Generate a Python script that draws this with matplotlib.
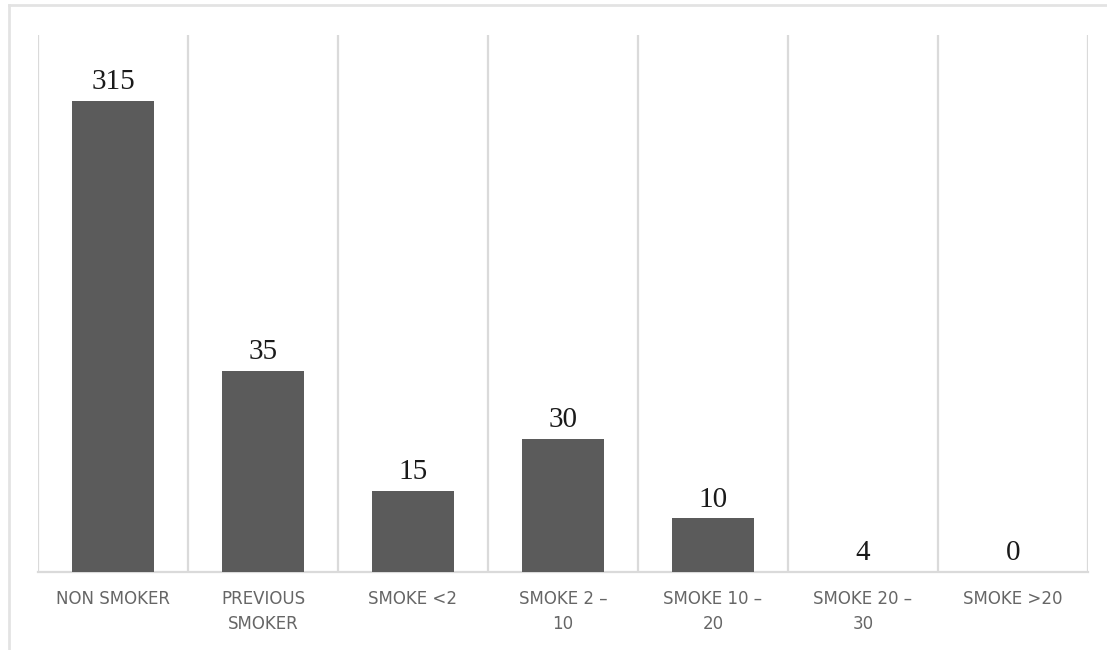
import matplotlib.pyplot as plt
from matplotlib.lines import Line2D

# Categorías y valores (etiquetas de datos)
categorias = ["NON SMOKER", "PREVIOUS\nSMOKER", "SMOKE <2", "SMOKE 2 –\n10",
              "SMOKE 10 –\n20", "SMOKE 20 –\n30", "SMOKE >20"]
valores = [315, 35, 15, 30, 10, 4, 0]
# Altura visible de cada barra (escala 0-350)
alturas = [307, 131, 53, 87, 35, 0, 0]

fig = plt.figure(figsize=(11.07, 6.5), dpi=100)
ax = fig.add_axes([0.0343, 0.12, 0.9485, 0.826])

x = range(len(categorias))
ax.bar(x, alturas, width=0.55, color='#5b5b5b', zorder=3)

# Etiquetas de valor sobre las barras
for i, (h, v) in enumerate(zip(alturas, valores)):
    ax.annotate(str(v), (i, h), xytext=(0, 8.5), textcoords='offset points',
                ha='center', va='baseline', fontsize=21,
                family='Liberation Serif', color='#1a1a1a')

ax.set_xlim(-0.5, len(categorias) - 0.5)
ax.set_ylim(0, 350)

# Líneas verticales entre categorías
for b in range(len(categorias) + 1):
    ax.axvline(b - 0.5, color='#dadada', lw=1.6, zorder=1)

ax.set_xticks(list(x))
ax.set_xticklabels(categorias, fontsize=12, color='#666666',
                   family='DejaVu Sans', linespacing=1.5)
ax.tick_params(axis='x', length=0, pad=13)
ax.set_yticks([])

for s in ['top', 'left', 'right']:
    ax.spines[s].set_visible(False)
ax.spines['bottom'].set_color('#dadada')
ax.spines['bottom'].set_linewidth(1.6)

# Marco exterior (solo arriba e izquierda visibles)
fig.add_artist(Line2D([9 / 1107, 1], [1 - 5 / 650, 1 - 5 / 650],
                      transform=fig.transFigure, color='#e3e3e3', lw=2))
fig.add_artist(Line2D([9 / 1107, 9 / 1107], [0, 1 - 5 / 650],
                      transform=fig.transFigure, color='#e3e3e3', lw=2))

fig.savefig("out.png", dpi=100)
